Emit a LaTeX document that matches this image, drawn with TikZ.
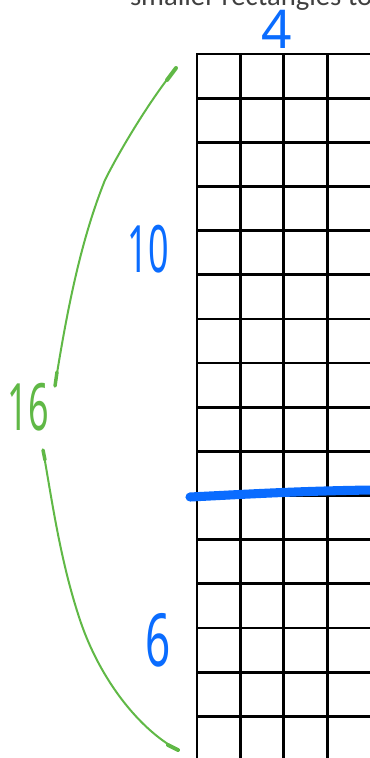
\documentclass[tikz,border=0pt]{standalone}
\usepackage{fontspec}
\setmainfont{Carlito}
\newfontfamily\handfont{Noto Sans}
\usepackage{xcolor}
\definecolor{inkblue}{RGB}{10,108,255}
\definecolor{inkgreen}{RGB}{96,184,70}
\definecolor{capgray}{RGB}{64,64,64}
\usepackage{tikz}
\usetikzlibrary{arrows.meta, positioning}
\tikzset{
  gridline/.style={line width=2.1pt,black},
  hand/.style={inner sep=0pt,outer sep=0pt,font=\handfont\fontsize{#1}{#1}\selectfont},
  greenink/.style={inkgreen,line width=1.5pt,line cap=round},
}

\begin{document}
\begin{tikzpicture}[x=0.75pt,y=-0.75pt,inner sep=0pt,outer sep=0pt]
\useasboundingbox (0,0) rectangle (369,758);
% grid
\foreach \j in {0,...,15}
  \draw[gridline] (197,54+44.15*\j) -- (372,54+44.15*\j);
\foreach \i in {0,...,3}
  \draw[gridline] (197+43.4*\i,53) -- (197+43.4*\i,760);
\node[anchor=base west,text=capgray,font=\fontsize{21.5pt}{24pt}\selectfont] (cap) at (130,5) {smaller rectangles to};
% split line
\coordinate (cutL) at (190,497);
\coordinate (cutR) at (372,490);
\draw[inkblue,line width=6.8pt,line cap=round] (cutL) .. controls (250,494) and (300,491) .. (cutR);
% labels
\node[hand=40pt,text=inkblue] (numW) at (277,29) {4};
\node[hand=49pt,text=inkblue,xscale=0.55] (numA) at (148,249) {10};
\node[hand=55pt,text=inkblue,xscale=0.6] (numB) at (158,640) {6};
\node[hand=49pt,text=inkgreen,xscale=0.55] (numT) at (28,407) {16};
% braces
\coordinate (upA) at (176,68);
\coordinate (upB) at (55,386);
\coordinate (lowA) at (43,450);
\coordinate (lowB) at (178,750);
\draw[greenink] (upA) .. controls (150,100) and (120,150) .. (105,180) .. controls (85,230) and (70,290) .. (upB);
\draw[greenink] (lowA) .. controls (52,500) and (60,560) .. (80,620) .. controls (100,680) and (140,730) .. (lowB);
\draw[greenink,line width=3pt] (upA) -- ++(-9,12);
\draw[greenink,line width=2.6pt] (upB) -- ++(2,-14);
\draw[greenink,line width=2.6pt] (lowA) -- ++(2,10);
\draw[greenink,line width=3pt] (lowB) -- ++(-10,-5);
\end{tikzpicture}
\end{document}
